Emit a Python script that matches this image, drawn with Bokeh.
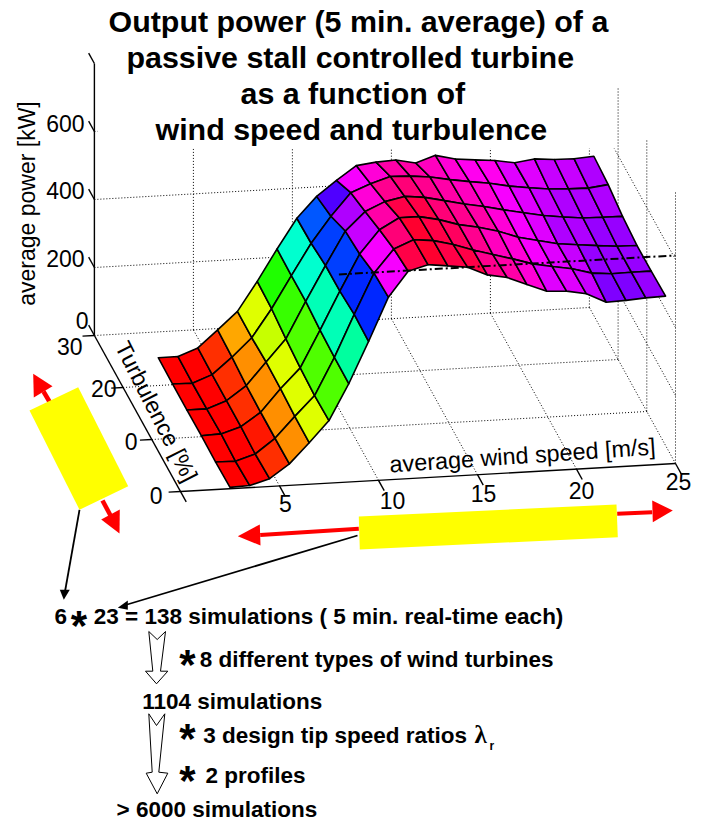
import colorsys
import math
from bokeh.plotting import figure
from bokeh.models import Range1d
from bokeh.core.properties import value
from bokeh.embed import file_html
from bokeh.resources import INLINE

# ---- data ----
wind_speed = [2.5 + k for k in range(23)]
turbulence = [0, 5, 10, 15, 20, 25]
power_t0 = [4, 6, 23, 63, 122, 184, 289, 410, 537, 610, 626, 619, 612, 586, 575, 551, 528, 525, 514, 486, 488, 492, 494]
power_t5 = [2, 1, 19, 62, 123, 181, 290, 413, 531, 599, 623, 617, 602, 583, 566, 550, 532, 521, 511, 495, 490, 491, 491]
power_t10 = [3, 5, 23, 62, 128, 186, 294, 405, 511, 579, 611, 611, 599, 581, 570, 555, 534, 521, 508, 502, 496, 491, 490]
power_t15 = [2, 2, 23, 64, 130, 195, 302, 404, 502, 556, 582, 594, 588, 575, 562, 551, 538, 526, 515, 507, 501, 500, 499]
power_t20 = [2, 1, 23, 71, 125, 207, 301, 393, 469, 535, 558, 576, 574, 568, 557, 548, 540, 528, 520, 513, 510, 509, 516]
power_t25 = [3, 3, 25, 75, 126, 211, 303, 390, 451, 495, 535, 542, 545, 533, 552, 538, 532, 527, 517, 525, 520, 519, 523]
power_rows = [power_t0, power_t5, power_t10, power_t15, power_t20, power_t25]
rated_power = 612
rated_wind = [8, 25]

wind_ticks = [5, 10, 15, 20, 25]
turb_ticks = [0, 10, 20, 30]
power_ticks = [0, 200, 400, 600]
turb_tick_labels = ["0", "0", "20", "30"]
title_lines = ["Output power (5 min. average) of a", "passive stall controlled turbine",
               "as a function of", "wind speed and turbulence"]

# ---- projection of (wind, turbulence, power) on to the page ----
def px(w, t):
    return 180 + 19.8 * w - 2.87 * t

def py(w, t, z=0):
    return 491 - 1.12 * w - 5.2 * t - 0.34 * z

FONT = value("Liberation Sans")
p = figure(width=703, height=821, x_range=Range1d(0, 703), y_range=Range1d(821, 0),
           output_backend="svg", toolbar_location=None, min_border=0,
           x_axis_location=None, y_axis_location=None)
p.grid.visible = False
p.outline_line_color = None
p.background_fill_color = "white"

def txt(x, y, s, size, bold=False, align="left", base="middle", angle=0, font=FONT, color="black"):
    p.text([x], [y], text=[s], text_font=font, text_font_size=f"{size}px",
           text_font_style="bold" if bold else "normal", text_align=align,
           text_baseline=base, angle=angle, text_color=color)

# ---- dotted grid ----
gx, gy = [], []
def seg(a, b):
    gx.append([px(a[0], a[1]), px(b[0], b[1])])
    gy.append([py(*a), py(*b)])

for w in wind_ticks:
    seg((w, 0), (w, 30))
    seg((w, 30, 0), (w, 30, 800))
for t in turb_ticks[1:]:
    seg((0, t), (25, t))
for t in turb_ticks[:-1]:
    seg((25, t, 0), (25, t, 800))
for z in power_ticks[1:]:
    seg((0, 30, z), (25, 30, z))
    seg((25, 30, z), (25, 0, z))
p.multi_line(gx, gy, line_color="black", line_width=1, line_dash="1 2")

# ---- the title hides what lies behind it ----
p.quad(left=[97], right=[615], top=[0], bottom=[148], fill_color="white", line_color=None)

# ---- surface ----
def colour(z):
    hue = min(int(max(z, 0) / 640 * 64), 63) / 64
    r, g, b = colorsys.hsv_to_rgb(hue, 1, 1)
    return "#%02x%02x%02x" % (int(r * 255), int(g * 255), int(b * 255))

xs, ys, cs = [], [], []
for j in range(len(turbulence) - 2, -1, -1):
    for i in range(len(wind_speed) - 1):
        corners = [(i, j), (i + 1, j), (i + 1, j + 1), (i, j + 1)]
        xs.append([px(wind_speed[a], turbulence[b]) for a, b in corners])
        ys.append([py(wind_speed[a], turbulence[b], power_rows[b][a]) for a, b in corners])
        cs.append(colour(power_rows[j][i]))
p.patches(xs, ys, fill_color=cs, line_color="black", line_width=1.6, line_join="round")

# rated power line
p.line([px(w, 0) for w in rated_wind], [py(w, 0, rated_power) for w in rated_wind],
       line_color="black", line_width=2, line_dash="8 3 2 3")

# ---- axes ----
ax_x, ax_y = [], []
def axis_seg(a, b):
    ax_x.append([px(a[0], a[1]), px(b[0], b[1])])
    ax_y.append([py(*a), py(*b)])

axis_seg((0, 0), (25, 0))
axis_seg((0, -2), (0, 30))
axis_seg((0, 30, 0), (0, 30, 800))
for w in wind_ticks:
    axis_seg((w, 0), (w, -2))
for t in turb_ticks:
    axis_seg((0, t), (-0.6, t))
for z in power_ticks + [800]:
    axis_seg((0, 30, z), (0, 32, z))
p.multi_line(ax_x, ax_y, line_color="black", line_width=1.4)

for z, y in zip(power_ticks[1:], [258, 190, 123]):
    txt(84, y, str(z), 23, align="right")
txt(88, 320, str(power_ticks[0]), 23, align="right")
for s, x, y in zip(turb_tick_labels, [162, 137, 116, 82], [495, 441, 388, 346]):
    txt(x, y, s, 23, align="right")
for w, x, y in zip(wind_ticks, [285, 392, 483, 581, 678], [503, 500, 493, 490, 481]):
    txt(x, y, str(w), 23, align="center")

txt(26, 203, "average power [kW]", 23, align="center", angle=math.pi / 2)
txt(522, 455, "average wind speed [m/s]", 23.4, align="center", angle=0.068)
txt(156, 411, "Turbulence [%]", 23, align="center", angle=-1.10)

# ---- title ----
for s, x, y in zip(title_lines, [108, 126, 240, 155], [20, 56, 92, 128]):
    txt(x, y, s, 30.4, bold=True)

# ---- yellow boxes and red arrows ----
p.line([43, 49.5], [391, 402], line_color="#ff0000", line_width=4.5)
p.line([102, 110], [500, 515], line_color="#ff0000", line_width=4.5)
p.patch([32.7, 52, 33.3], [373.3, 385.7, 397], color="#ff0000", line_width=0)
p.patch([119, 100.7, 119.3], [533, 519, 509], color="#ff0000", line_width=0)
p.patch([29, 77.7, 127.7, 79], [410, 386.7, 485.7, 509.3], color="#ffff00", line_width=0)

p.line([259.7, 358.3], [534.5, 528.3], line_color="#ff0000", line_width=4)
p.line([616.7, 651.7], [513.3, 511.7], line_color="#ff0000", line_width=4)
p.patch([237.3, 259.3, 260], [535.7, 524, 545], color="#ff0000", line_width=0)
p.patch([672.3, 651.7, 652.3], [510, 500, 521.7], color="#ff0000", line_width=0)
p.patch([358.3, 616, 617.3, 359.3], [516, 504, 536.7, 549], color="#ffff00", line_width=0)

# ---- black pointers ----
p.line([79, 64.5], [509.3, 591], line_color="black", line_width=1.8)
p.patch([63.3, 59.3, 69.3], [599.3, 589.3, 589.3], color="black", line_width=0)
p.line([357, 125], [535, 604.5], line_color="black", line_width=1.8)
p.patch([117.3, 127.3, 127.3], [607.3, 600, 609.3], color="black", line_width=0)

# ---- hollow block arrows ----
p.patch([148.3, 156.7, 165, 160, 167.3, 156, 145, 152.3],
        [631, 639, 631, 670.7, 670.7, 683.3, 670.7, 670.7],
        fill_color="white", line_color="black", line_width=1)
p.patch([148.3, 156, 164.3, 158.3, 167.3, 156.7, 145.7, 151.7],
        [713.3, 725, 713.3, 771.7, 772.7, 793.3, 772.7, 771.7],
        fill_color="white", line_color="black", line_width=1)

# ---- lower text ----
LOW = 22.5
txt(54, 616, "6", LOW, bold=True)
txt(93.3, 616, "23 = 138 simulations ( 5 min. real-time each)", LOW, bold=True)
txt(199.3, 659, "8 different types of wind turbines", LOW, bold=True)
txt(141.7, 701, "1104 simulations", LOW, bold=True)
txt(202.7, 735, "3 design tip speed ratios", LOW, bold=True)
txt(474, 734, "λ", 25, font=value("Liberation Serif"), bold=True)
txt(489, 745, "r", 12, bold=True)
txt(205, 775, "2 profiles", LOW, bold=True)
txt(116, 809, "> 6000 simulations", LOW, bold=True)
for x, y in zip([78.3, 187, 187, 187], [620, 659, 733, 775]):
    txt(x, y + 5, "*", 42, bold=True, align="center")

open("out.html", "w").write(file_html(p, INLINE))
